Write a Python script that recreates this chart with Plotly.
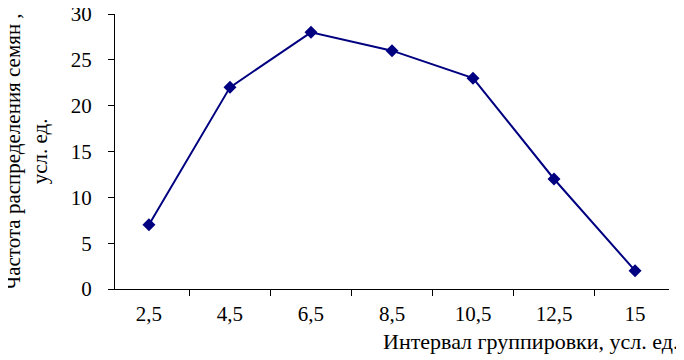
import plotly.graph_objects as go

categories = ["2,5", "4,5", "6,5", "8,5", "10,5", "12,5", "15"]
values = [7, 22, 28, 26, 23, 12, 2]
y_ticks = [0, 5, 10, 15, 20, 25, 30]

FONT = "Liberation Serif, Times New Roman, serif"

fig = go.Figure()
fig.add_trace(go.Scatter(
    x=categories, y=values, mode="lines+markers",
    line=dict(color="#000080", width=2),
    marker=dict(symbol="diamond", size=10, color="#000080"),
    showlegend=False, cliponaxis=False,
))

fig.update_layout(
    width=684, height=360,
    margin=dict(l=107, r=23, t=6, b=79, autoexpand=False),
    paper_bgcolor="white", plot_bgcolor="white",
    font=dict(family=FONT, size=21, color="black"),
    xaxis=dict(
        type="category", tickson="boundaries", ticks="outside", ticklen=6,
        tickcolor="black", showline=True, linecolor="black", linewidth=1,
        showgrid=False, zeroline=False, tickfont=dict(size=21),
        ticklabelstandoff=6, automargin=False,
    ),
    yaxis=dict(
        range=[0, 30], tickvals=y_ticks, ticks="outside", ticklen=6,
        tickcolor="black", showline=True, linecolor="black", linewidth=1,
        showgrid=False, zeroline=False, tickfont=dict(size=21),
        ticklabelstandoff=12, automargin=False, ticklabeloverflow="allow",
    ),
    annotations=[
        dict(
            text="Частота распределения семян ,<br>усл. ед.",
            textangle=-90, xref="paper", yref="paper", x=0, y=0.5,
            xanchor="center", yanchor="middle", xshift=-89, showarrow=False,
            font=dict(size=21, family=FONT),
        ),
        dict(
            text="Интервал группировки, усл. ед.",
            xref="paper", yref="paper", x=1, y=0, xanchor="right", yanchor="middle",
            xshift=11, yshift=-52, showarrow=False,
            font=dict(size=22, family=FONT),
        ),
    ],
)

fig.write_html("out.html")
